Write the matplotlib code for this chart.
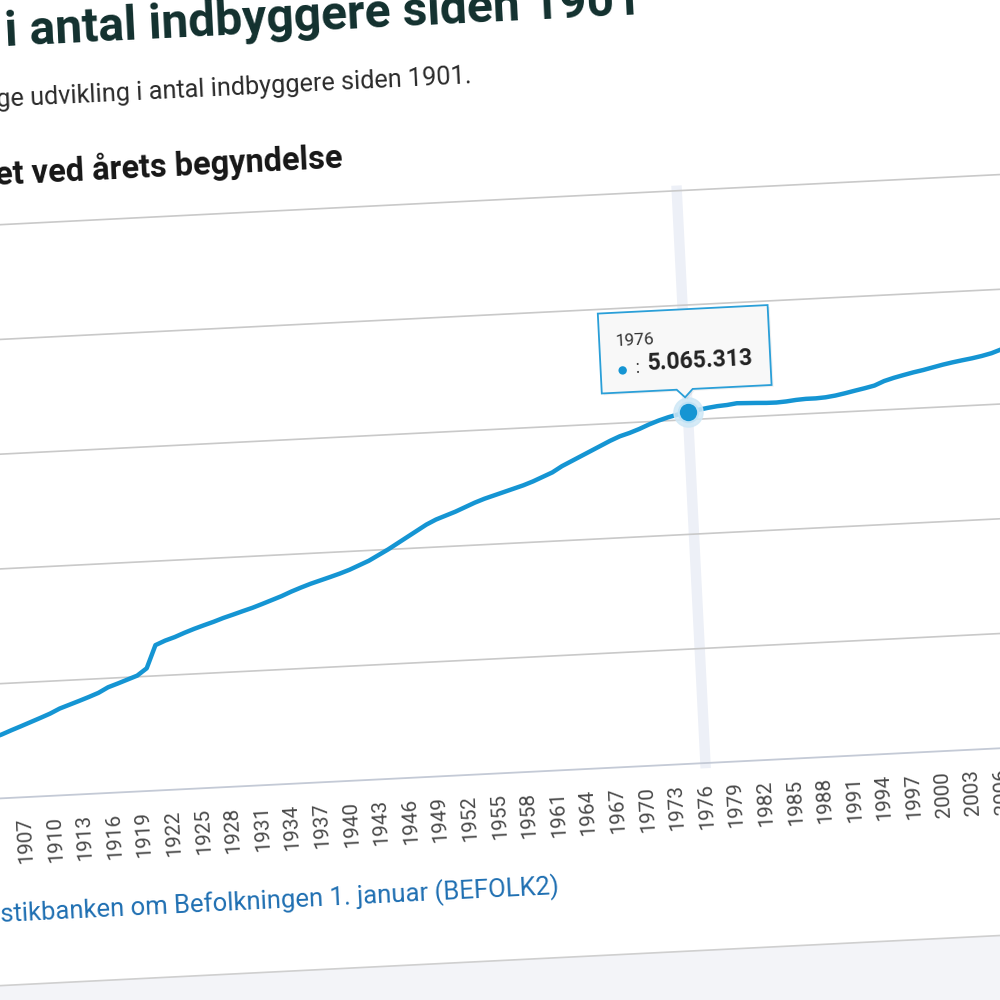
import matplotlib
matplotlib.use("Agg")
import matplotlib.pyplot as plt
import matplotlib.transforms as mtransforms
from matplotlib.patches import Polygon, Rectangle, Circle

plt.rcParams["font.family"] = ["Roboto", "DejaVu Sans"]

# ---------------- data (population 1 January) ----------------
years = list(range(1901, 2024))
population = [
    2449540, 2476000, 2502000, 2529000, 2556000, 2588919, 2620000, 2652000, 2684000, 2717000,  # 1901-1910
    2757076, 2786000, 2815000, 2845000, 2877000, 2921362, 2950000, 2980000, 3010000, 3070000,  # 1911-1920
    3267831, 3303000, 3330000, 3363000, 3393000, 3420000, 3446000, 3475000, 3500000, 3526000,  # 1921-1930
    3551000, 3580000, 3610000, 3640000, 3675000, 3706000, 3735000, 3760000, 3785000, 3811000,  # 1931-1940
    3840000, 3875000, 3910000, 3955000, 4000000, 4050000, 4100000, 4150000, 4200000, 4240000,  # 1941-1950
    4270000, 4300000, 4335000, 4370000, 4400000, 4425000, 4450000, 4475000, 4500000, 4530000,  # 1951-1960
    4565000, 4600000, 4650000, 4690000, 4730000, 4770000, 4810000, 4850000, 4885000, 4910000,  # 1961-1970
    4940000, 4975000, 5005000, 5030000, 5050000, 5065313, 5080000, 5094000, 5105000, 5111000,  # 1971-1980
    5122000, 5119000, 5116000, 5112000, 5111000, 5116000, 5125000, 5130000, 5130000, 5135000,  # 1981-1990
    5146000, 5162000, 5180000, 5197000, 5216000, 5251000, 5275000, 5295000, 5314000, 5330000,  # 1991-2000
    5349000, 5368000, 5384000, 5398000, 5411000, 5427000, 5447000, 5476000, 5511000, 5535000,  # 2001-2010
    5561000, 5581000, 5603000, 5627000, 5660000, 5707000, 5749000, 5781000, 5806000, 5823000,  # 2011-2020
    5841000, 5873000, 5933000,                                                                   # 2021-2023
]
tick_years = list(range(1907, 2007, 3))
tick_labels = [str(y) for y in tick_years]
grid_values = [3000000, 4000000, 5000000, 6000000, 7000000]
axis_min = 2000000
highlight_year = 1976
highlight_value = population[years.index(highlight_year)]

title_text = "i antal indbyggere siden 1901"
subtitle_text = "ge udvikling i antal indbyggere siden 1901."
chart_title_text = "et ved årets begyndelse"
source_text = "stikbanken om Befolkningen 1. januar (BEFOLK2)"

# ---------------- styling ----------------
W = H = 1000
LINE_BLUE = "#1595d3"
GRID = "#c9c9c9"
THETA = 2.87  # the whole page is seen slightly tilted

fig = plt.figure(figsize=(10, 10), dpi=100)
fig.patch.set_facecolor("white")

# rotation of the page around the figure centre (display pixels)
rot = mtransforms.Affine2D().rotate_deg_around(W / 2, H / 2, THETA)
# image pixel coordinates (origin top-left, y down) -> figure
img = mtransforms.Affine2D().scale(1 / W, -1 / H).translate(0, 1) + fig.transFigure


def fy(ypx):
    return 1 - ypx / H


# axes placement in the un-tilted page (pixels)
px_per_year = 9.88
anchor_px = 692
x_lo, x_hi = 1900.5, 2023.5
left_px = anchor_px - (highlight_year - x_lo) * px_per_year
right_px = anchor_px + (x_hi - highlight_year) * px_per_year
top_px, bottom_px = 200, 773
ax = fig.add_axes([left_px / W, fy(bottom_px), (right_px - left_px) / W, (bottom_px - top_px) / H])
ax.set_xlim(x_lo, x_hi)
ax.set_ylim(axis_min, grid_values[-1])
ax.patch.set_visible(False)
for s in ax.spines.values():
    s.set_visible(False)
ax.set_yticks([])
ax.tick_params(axis="y", left=False, labelleft=False)


def tilt(artist):
    artist.set_transform(artist.get_transform() + rot)
    artist.set_clip_on(False)
    return artist


# gridlines and axis line
for v in grid_values:
    tilt(ax.axhline(v, color=GRID, linewidth=1.2, zorder=1))
tilt(ax.axhline(axis_min, color="#c4cad6", linewidth=1.3, zorder=1))

# crosshair band
tilt(ax.axvline(highlight_year, color="#edf0f7", linewidth=7.5, zorder=0.5))

# series
tilt(ax.plot(years, population, color=LINE_BLUE, linewidth=3.2, solid_joinstyle="round", zorder=4)[0])

# highlighted point
tilt(ax.plot([highlight_year], [highlight_value], "o", ms=21, color="#cfe8f6", alpha=0.85, zorder=5)[0])
tilt(ax.plot([highlight_year], [highlight_value], "o", ms=14, color=LINE_BLUE, mec="#bfe2f5",
             mew=1.5, zorder=6)[0])

# x tick labels
ax.set_xticks(tick_years)
ax.set_xticklabels(tick_labels, rotation=90 + THETA, color="#4a4a4a", fontsize=13)
ax.tick_params(axis="x", length=0, pad=14)
for lb in ax.get_xticklabels():
    lb.set_transform(lb.get_transform() + rot)

# tooltip (pixel geometry relative to the point, in the tilted frame)
pt = (fig.dpi_scale_trans + mtransforms.Affine2D().rotate_deg(THETA)
      + mtransforms.ScaledTranslation(highlight_year, highlight_value, ax.transData + rot))


def inch(v):
    return v / 100.0


box_l, box_r, box_b, box_t, tip_x, tip_y, tip_hw = -85, 85, 23, 103, -2, 15, 8
verts = [(box_l, box_b), (tip_x - tip_hw, box_b), (tip_x, tip_y), (tip_x + tip_hw, box_b), (box_r, box_b),
         (box_r, box_t), (box_l, box_t)]
fig.add_artist(Polygon([(inch(x + 2), inch(y - 2)) for x, y in verts], closed=True, transform=pt,
                       facecolor="#000000", alpha=0.06, edgecolor="none", zorder=9))
fig.add_artist(Polygon([(inch(x), inch(y)) for x, y in verts], closed=True, transform=pt,
                       facecolor="#f8f8f8", edgecolor="#2a9fd8", linewidth=1.3, zorder=10))
fig.add_artist(Circle((inch(-63), inch(45)), inch(4.2), transform=pt, facecolor=LINE_BLUE,
                      edgecolor="none", zorder=11))
tip_kw = dict(transform=pt, rotation=THETA, rotation_mode="anchor", ha="left", va="center", zorder=11)
t_year = fig.text(inch(-69), inch(74), str(highlight_year), fontsize=11.5, color="#333333", **tip_kw)
fig.text(inch(-50), inch(47), ":", fontsize=13, color="#333333", **tip_kw)
value_str = f"{highlight_value:,}".replace(",", ".")
t_val = fig.text(inch(-38), inch(51), value_str, fontsize=15, fontweight="bold", color="#222222", **tip_kw)

# page texts (anchored at the left end of their baselines, in image pixels)
txt_kw = dict(transform=img, rotation=0, rotation_mode="anchor", ha="left", va="baseline")
t_title = fig.text(5, 46, title_text, fontsize=30, fontweight="bold", color="#12302e", **txt_kw)
t_sub = fig.text(-3, 107, subtitle_text, fontsize=15, color="#2a2a2a", **txt_kw)
t_ct = fig.text(-4, 185, chart_title_text, fontsize=20, fontweight="bold", color="#161616", **txt_kw)
t_src = fig.text(1, 922, source_text, fontsize=15, color="#1f6fb2", **txt_kw)

# bottom page edge (tilted with the page)
band = Rectangle((-0.3, -0.3), 1.6, fy(960) + 0.3, transform=fig.transFigure + rot,
                 facecolor="#f3f4f8", edgecolor="#cfcfcf", linewidth=1.2, zorder=0)
fig.add_artist(band)

# fit text sizes to the widths seen in the reference, then tilt
fig.canvas.draw()
r = fig.canvas.get_renderer()


def fit(t, target_w):
    w = t.get_window_extent(r).width
    t.set_fontsize(t.get_fontsize() * target_w / w)


fit(t_title, 636)
fit(t_sub, 477)
fit(t_ct, 347)
fit(t_src, 558)
fit(t_val, 107)
fit(t_year, 40)
for t in (t_title, t_sub, t_ct, t_src):
    t.set_rotation(THETA)
lab = ax.get_xticklabels()[0]
h = lab.get_window_extent(r).height
fs = 13 * 47 / h
for lb in ax.get_xticklabels():
    lb.set_fontsize(fs)

fig.savefig("out.png", dpi=100, facecolor=fig.get_facecolor())
